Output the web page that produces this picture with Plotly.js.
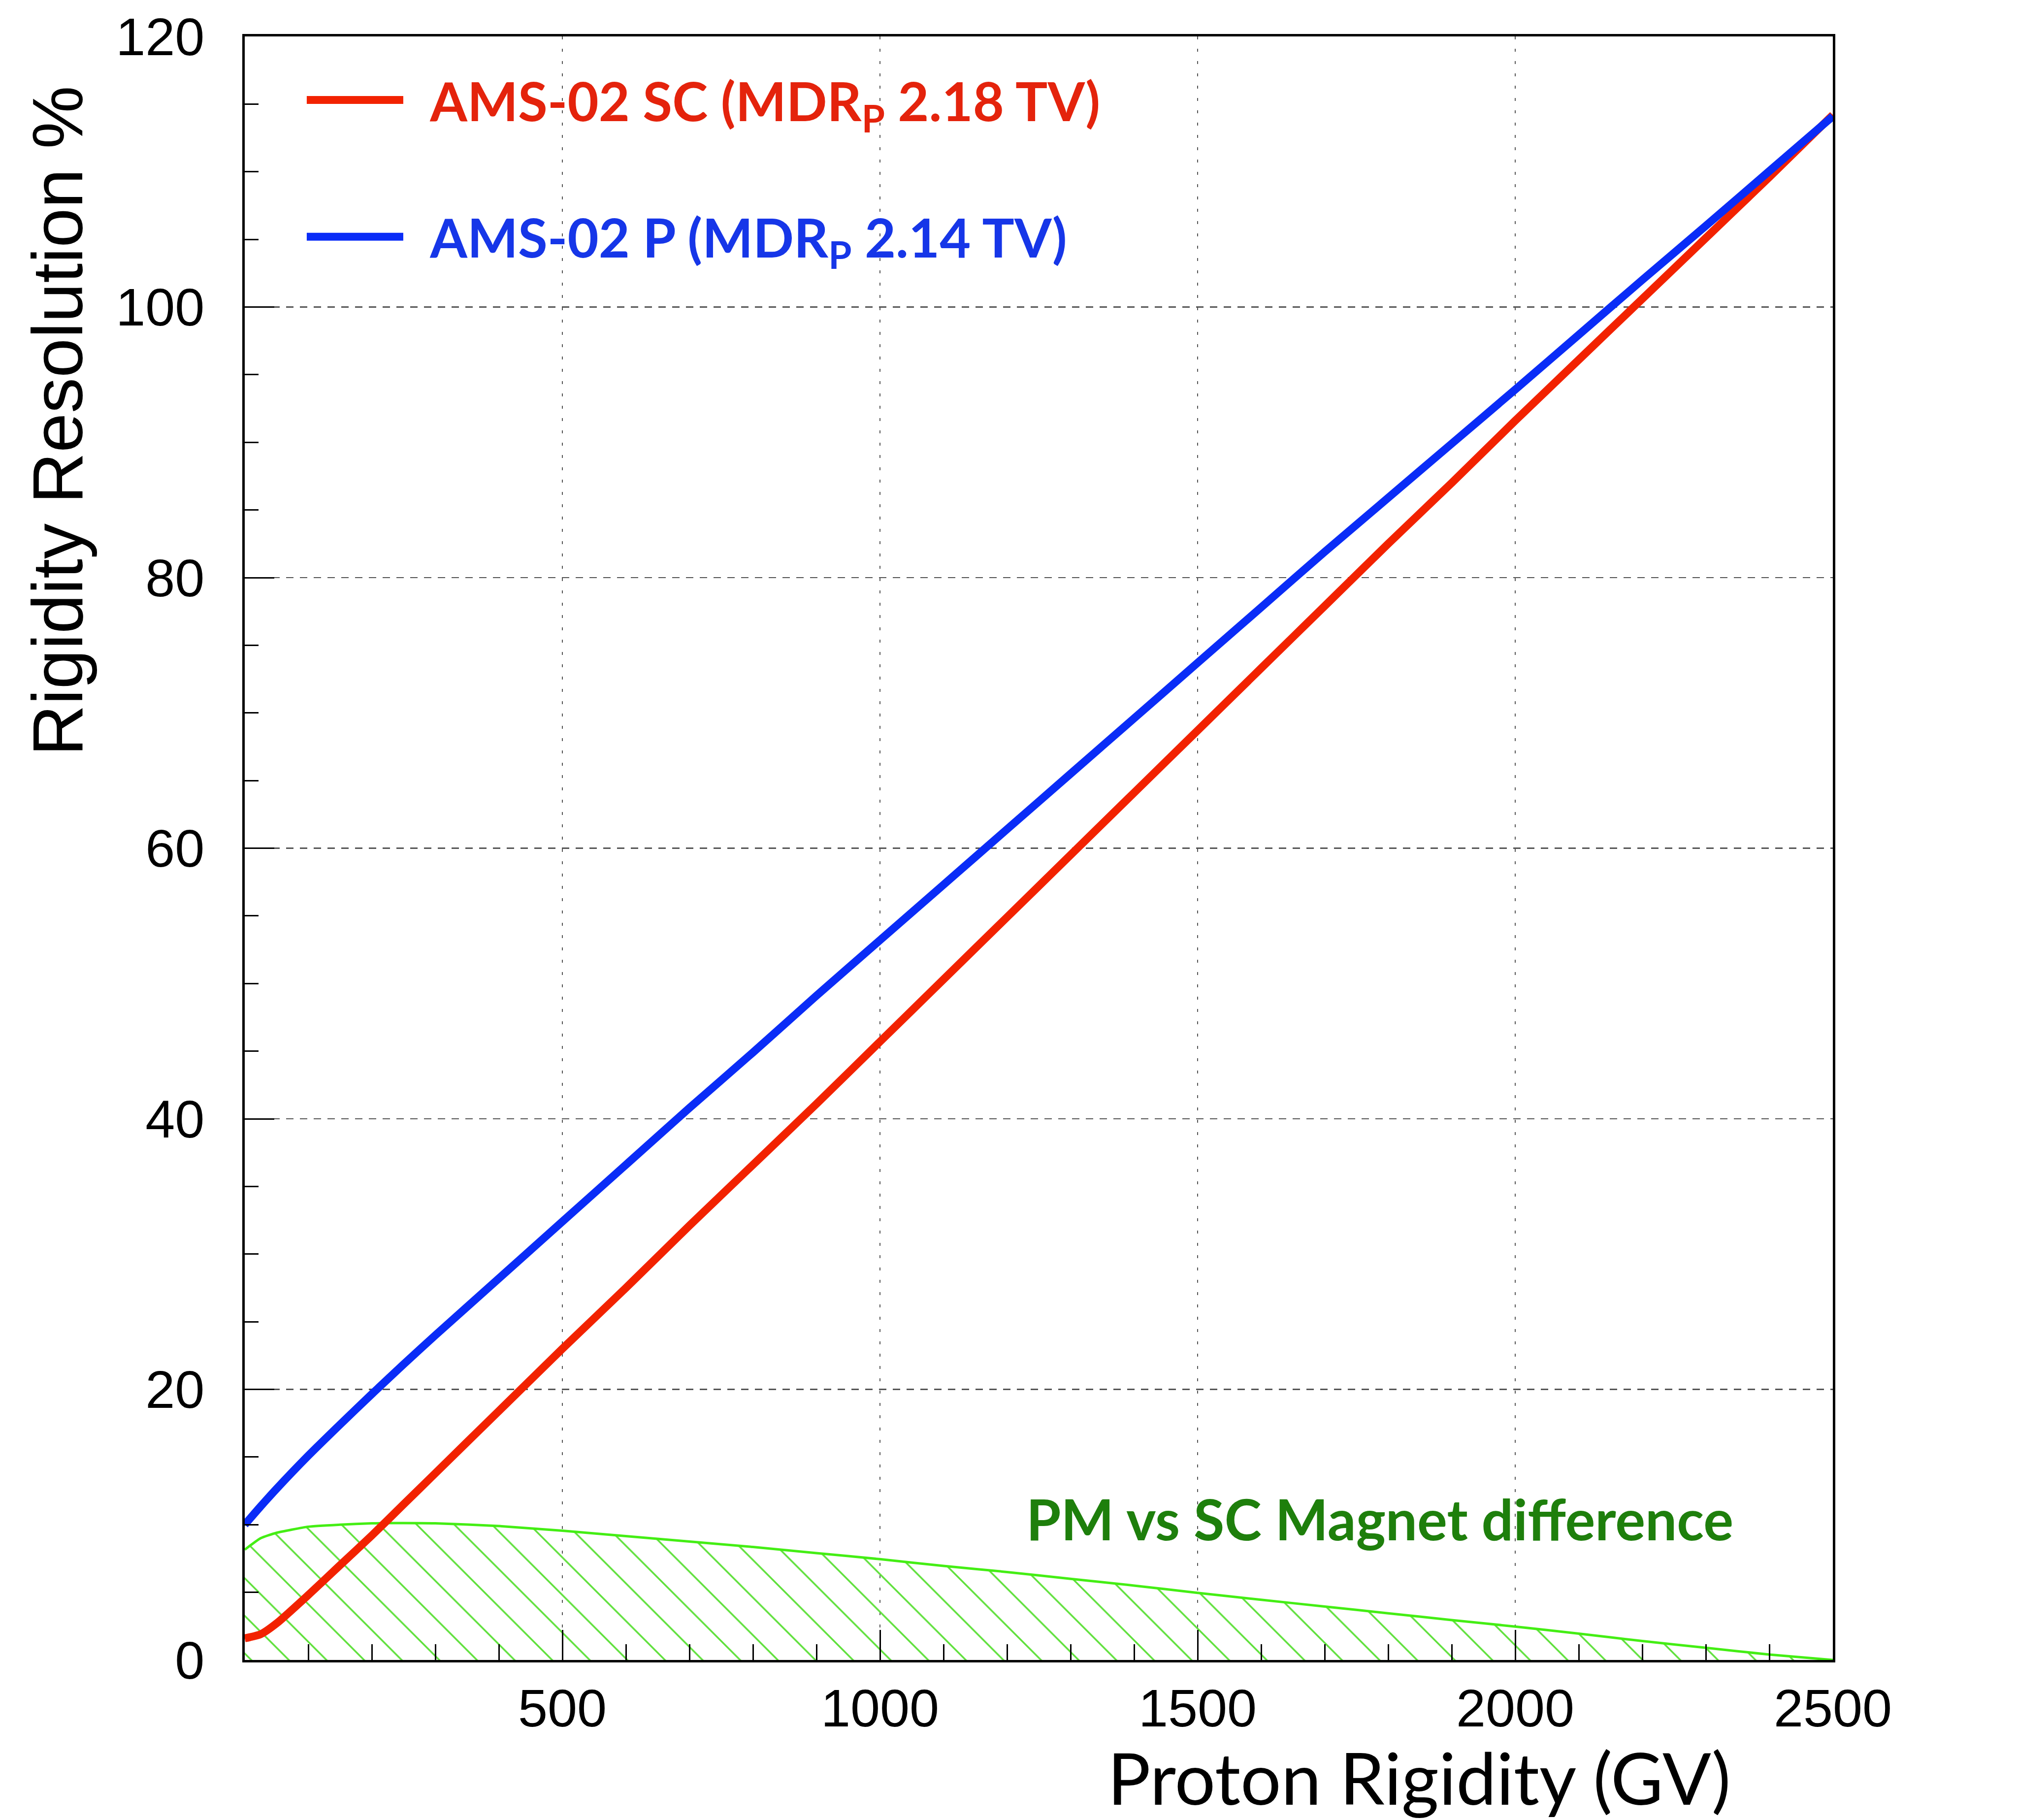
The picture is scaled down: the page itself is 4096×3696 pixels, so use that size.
<!DOCTYPE html>
<html><head><meta charset="utf-8">
<script src="https://cdn.plot.ly/plotly-3.0.1.min.js"></script>
<style>html,body{margin:0;padding:0;background:#fff;} #chart{width:4096px;height:3696px;}</style>
</head><body><div id="chart"></div>
<script>
// Proton rigidity (GV)
const rigidity = [0,25,50,100,150,200,250,300,400,500,600,700,800,900,1000,1100,1200,1300,1400,1500,1600,1700,1800,1900,2000,2100,2200,2300,2400,2500];
// AMS-02 SC (superconducting magnet) rigidity resolution %
const resSC = [1.6,1.9,2.7,4.8,7.0,9.2,11.5,13.8,18.4,23.0,27.5,32.1,36.6,41.1,45.7,50.3,54.9,59.5,64.1,68.7,73.3,77.9,82.5,87.0,91.6,96.1,100.6,105.1,109.6,114.2];
// AMS-02 P (permanent magnet) rigidity resolution %
const resP = [10.0,11.35,12.65,15.1,17.4,19.65,21.85,24.0,28.2,32.4,36.6,40.8,44.9,49.1,53.2,57.3,61.4,65.5,69.6,73.7,77.8,81.9,85.9,89.9,93.9,97.95,102.0,106.0,110.05,114.1];
// PM vs SC magnet difference %
const diffPMvsSC = [8.15,9.0,9.4,9.85,10.0,10.1,10.12,10.1,9.9,9.55,9.15,8.75,8.35,7.9,7.45,6.95,6.5,6.0,5.5,4.96,4.45,3.95,3.45,2.95,2.47,1.95,1.4,0.9,0.4,0.0];

const seriesNames = ['AMS-02 SC (MDR<sub>P</sub> 2.18 TV)', 'AMS-02 P (MDR<sub>P</sub> 2.14 TV)'];
const xTickVals = [500,1000,1500,2000,2500];
const xTickText = ['500','1000','1500','2000','2500'];
const yTickVals = [0,20,40,60,80,100,120];
const yTickText = ['0','20','40','60','80','100','120'];
const xTitle = 'Proton Rigidity (GV)';
const yTitle = 'Rigidity Resolution %';
const diffLabel = 'PM vs SC Magnet difference';

const NB = '\u00a0\u00a0';

const traces = [
  {
    x: rigidity, y: diffPMvsSC, type: 'scatter', mode: 'lines',
    line: {color: '#44ee14', width: 5, shape: 'spline', smoothing: 0.5},
    fill: 'tozeroy', fillcolor: 'rgba(0,0,0,0)',
    fillpattern: {shape: '\\', size: 54, solidity: 0.065, fgcolor: '#5ee03a', bgcolor: 'rgba(0,0,0,0)', fillmode: 'replace'},
    showlegend: false, hoverinfo: 'skip'
  },
  {
    x: rigidity, y: resSC, type: 'scatter', mode: 'lines',
    name: NB + '<span style="color:#e4230c">' + seriesNames[0] + '</span>',
    legendgroup: 'sc',
    line: {color: '#f22200', width: 16, shape: 'spline', smoothing: 0.6}
  },
  {
    x: rigidity, y: resP, type: 'scatter', mode: 'lines',
    name: NB + '<span style="color:#1636e8">' + seriesNames[1] + '</span>',
    legendgroup: 'p',
    line: {color: '#0a2cf7', width: 16, shape: 'spline', smoothing: 0.6}
  }
];

const axisCommon = {
  showline: true, linewidth: 5, linecolor: '#000', mirror: true,
  ticks: 'inside', tickwidth: 3, tickcolor: '#000',
  showgrid: true, gridcolor: '#555', gridwidth: 2.5,
  zeroline: false, fixedrange: true,
  tickfont: {family: 'Liberation Sans, Arial, sans-serif', size: 108, color: '#000'}
};

const layout = {
  width: 4096, height: 3696,
  margin: {l: 497, r: 374, t: 74, b: 325, pad: 0},
  paper_bgcolor: '#ffffff', plot_bgcolor: '#ffffff',
  showlegend: true,
  legend: {
    x: 0.0375, y: 0.9843, xanchor: 'left', yanchor: 'top',
    bgcolor: 'rgba(0,0,0,0)', borderwidth: 0,
    font: {family: 'Lato, sans-serif', size: 109, weight: 700, color: '#000'},
    itemwidth: 196, tracegroupgap: 133, traceorder: 'grouped'
  },
  xaxis: Object.assign({}, axisCommon, {
    range: [0, 2500], tickmode: 'array', tickvals: xTickVals, ticktext: xTickText,
    ticklen: 61, griddash: '6px,19px',
    minor: {tick0: 0, dtick: 100, ticks: 'inside', ticklen: 32, tickwidth: 3, tickcolor: '#000', showgrid: false}
  }),
  yaxis: Object.assign({}, axisCommon, {
    range: [0, 120], tickmode: 'array', tickvals: yTickVals, ticktext: yTickText,
    ticklen: 60, griddash: '15px,13px', ticklabelstandoff: 55,
    minor: {tick0: 0, dtick: 5, ticks: 'inside', ticklen: 28, tickwidth: 3, tickcolor: '#000', showgrid: false}
  }),
  annotations: [
    {text: yTitle, xref: 'paper', yref: 'paper', x: -0.1178, y: 0.7631, xanchor: 'center', yanchor: 'middle',
     textangle: -90, showarrow: false, font: {family: 'Liberation Sans, Arial, sans-serif', size: 144, color: '#000'}},
    {text: xTitle, xref: 'paper', yref: 'paper', x: 0.7395, y: -0.0719, xanchor: 'center', yanchor: 'middle',
     showarrow: false, font: {family: 'Lato, sans-serif', size: 146, color: '#000'}},
    {text: diffLabel, xref: 'x', yref: 'y', x: 1229, y: 10.48, xanchor: 'left', yanchor: 'middle',
     showarrow: false, font: {family: 'Lato, sans-serif', size: 114, weight: 700, color: '#1e7f0c'}}
  ]
};

Plotly.newPlot('chart', traces, layout, {staticPlot: true, displayModeBar: false}).then(function(gd) {
  // Plotly caps legend line samples at 10px; match the thick keys of the reference
  gd.querySelectorAll('.legendlines path').forEach(function(p) { p.style.strokeWidth = '16px'; });
});
</script>
</body></html>
